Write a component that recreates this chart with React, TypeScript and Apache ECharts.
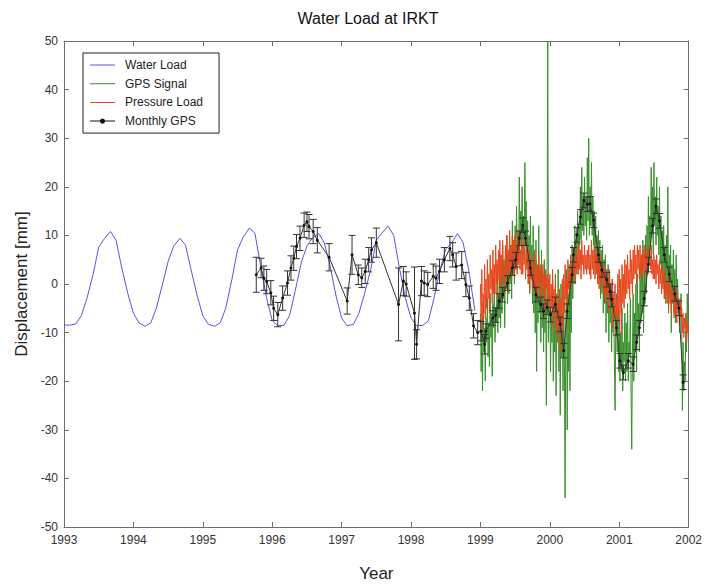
import React, { useEffect, useRef } from 'react';
import * as echarts from 'echarts';

// ---------- axes ----------
const yearTicks = [1993, 1994, 1995, 1996, 1997, 1998, 1999, 2000, 2001, 2002];
const dispTicks = [-50, -40, -30, -20, -10, 0, 10, 20, 30, 40, 50];

// ---------- Water Load (monthly model) ----------
const waterYears = [
  1993.00, 1993.08, 1993.17, 1993.25, 1993.33, 1993.42, 1993.50, 1993.58, 1993.67, 1993.75, 1993.83, 1993.92,
  1994.00, 1994.08, 1994.17, 1994.25, 1994.33, 1994.42, 1994.50, 1994.58, 1994.67, 1994.75, 1994.83, 1994.92,
  1995.00, 1995.08, 1995.17, 1995.25, 1995.33, 1995.42, 1995.50, 1995.58, 1995.67, 1995.75, 1995.83, 1995.92,
  1996.00, 1996.08, 1996.17, 1996.25, 1996.33, 1996.42, 1996.50, 1996.58, 1996.67, 1996.75, 1996.83, 1996.92,
  1997.00, 1997.08, 1997.17, 1997.25, 1997.33, 1997.42, 1997.50, 1997.58, 1997.67, 1997.75, 1997.83, 1997.92,
  1998.00, 1998.08, 1998.17, 1998.25, 1998.33, 1998.42, 1998.50, 1998.58, 1998.67, 1998.75, 1998.83, 1998.92,
];
const waterVals = [
  -8.4, -8.5, -8.2, -6.5, -3.0, 2.0, 7.6, 9.3, 10.8, 9.0, 3.5, -2.0,
  -6.0, -8.0, -8.7, -8.0, -5.0, 0.0, 4.6, 7.8, 9.4, 8.0, 3.0, -2.5,
  -6.5, -8.3, -8.7, -8.0, -5.0, 1.0, 7.0, 9.6, 11.5, 10.5, 4.0, -3.0,
  -7.5, -8.6, -8.5, -6.5, -1.5, 4.5, 7.8, 9.5, 10.4, 8.5, 4.0, -2.5,
  -7.0, -8.6, -8.3, -6.0, -2.0, 3.0, 9.0, 10.5, 11.9, 10.0, 3.5, -3.0,
  -7.0, -8.6, -8.5, -7.6, -3.0, 3.0, 7.2, 8.3, 10.4, 8.5, 3.0, -5.5,
];

// ---------- Monthly GPS with error bars ----------
const monthlyYears = [
  1995.77, 1995.84, 1995.88, 1995.92, 1995.98, 1996.02, 1996.08, 1996.15, 1996.22, 1996.27,
  1996.31, 1996.35, 1996.40, 1996.46, 1996.50, 1996.53, 1996.59, 1996.65, 1996.82, 1997.08,
  1997.15, 1997.24, 1997.29, 1997.34, 1997.39, 1997.43, 1997.50, 1997.82, 1997.89, 1997.93,
  1998.05, 1998.08, 1998.15, 1998.19, 1998.24, 1998.32, 1998.36, 1998.41, 1998.48, 1998.56,
  1998.60, 1998.65, 1998.73, 1998.79, 1998.84, 1998.90, 1998.96, 1999.01, 1999.06, 1999.08,
  1999.18, 1999.22, 1999.27, 1999.32, 1999.39, 1999.46, 1999.51, 1999.56, 1999.61, 1999.65,
  1999.72, 1999.80, 1999.87, 1999.91, 1999.96, 2000.01, 2000.08, 2000.15, 2000.20, 2000.25,
  2000.32, 2000.34, 2000.39, 2000.44, 2000.49, 2000.54, 2000.58, 2000.63, 2000.70, 2000.75,
  2000.82, 2000.87, 2000.89, 2000.96, 2001.01, 2001.06, 2001.13, 2001.20, 2001.25, 2001.29,
  2001.36, 2001.42, 2001.48, 2001.53, 2001.58, 2001.65, 2001.72, 2001.80, 2001.86, 2001.92,
];
const monthlyDisp = [
  1.9, 3.3, 1.2, 0.5, -1.8, -5.0, -6.3, -2.9, 0.2, 3.3,
  5.3, 7.7, 9.4, 12.1, 12.8, 11.8, 10.8, 9.0, 5.5, -3.5,
  6.0, 1.9, 1.3, 2.6, 5.0, 7.0, 8.5, -4.2, 0.6, 0.0,
  -6.0, -12.4, 0.6, 0.2, -0.1, 1.6, 1.2, 2.6, 5.0, 7.3,
  6.0, 3.6, 3.9, -0.1, -2.9, -8.6, -10.0, -9.7, -12.4, -9.7,
  -7.0, -6.4, -3.5, -2.2, 0.2, 3.3, 5.0, 9.4, 12.1, 9.4,
  3.3, -2.2, -4.2, -5.6, -4.8, -6.3, -4.2, -8.3, -13.7, -5.6,
  1.9, 6.0, 10.1, 13.8, 17.2, 16.4, 16.5, 13.1, 6.0, 2.9,
  0.9, -1.5, -3.2, -9.0, -15.8, -18.2, -15.8, -16.5, -12.0, -9.0,
  -3.0, 4.0, 12.0, 16.0, 13.0, 6.0, 2.0, -2.0, -5.0, -20.2,
];
const monthlyErr = [
  3.6, 2.0, 2.5, 2.5, 2.5, 2.5, 2.5, 2.5, 2.5, 2.5,
  2.5, 2.5, 2.5, 2.5, 2.0, 2.5, 2.5, 2.6, 2.8, 2.7,
  4.0, 2.0, 2.0, 2.5, 2.5, 2.5, 3.0, 7.5, 3.0, 2.5,
  9.5, 3.0, 3.0, 2.5, 2.5, 2.5, 2.5, 2.5, 2.5, 2.5,
  2.5, 2.8, 2.8, 2.5, 2.5, 2.5, 2.5, 2.0, 2.0, 1.5,
  1.5, 1.5, 1.5, 1.5, 1.5, 1.5, 1.5, 1.5, 1.5, 1.5,
  1.5, 1.5, 1.5, 1.5, 1.5, 1.5, 1.5, 1.5, 1.5, 1.5,
  1.5, 1.5, 1.5, 1.5, 1.5, 1.5, 1.5, 1.5, 1.5, 1.5,
  1.5, 1.5, 1.5, 1.5, 1.5, 1.5, 1.5, 1.5, 1.5, 1.5,
  1.5, 1.5, 1.5, 1.5, 1.5, 1.5, 1.5, 1.5, 1.5, 1.5,
];

// ---------- daily series (sampled every 0.01 yr from 1999.00) ----------
const sampleStart = 1999.0;
const sampleStep = 0.01;
const gpsSignal = [
  -6, -18, -10, -22, -4, -14, -9, -20, -7, -12, // 1999.0
  -3, -15, -8, -17, -2, -11, -6, -19, -4, -9, // 1999.1
  1, -12, -5, -8, 4, -10, -2, -7, 6, -9, // 1999.2
  2, -6, 8, -3, 5, -9, 7, -1, 10, -4, // 1999.3
  6, -2, 11, 0, 8, -3, 13, 2, 9, 0, // 1999.4
  12, 3, 16, 6, 10, 4, 22, 8, 15, 6, // 1999.5
  20, 9, 14, 5, 25, 10, 17, 4, 13, 0, // 1999.6
  10, -2, 14, 1, 8, -4, 12, -6, 6, -10, // 1999.7
  9, -18, 4, -8, 12, -6, 3, -12, 7, -9, // 1999.8
  2, -14, 5, -10, 0, -25, 3, 50, -12, -4, // 1999.9
  -2, -18, -6, -12, 1, -20, -4, -14, 2, -23, // 2000.0
  -5, -12, 3, -18, -3, -27, 0, -15, -6, -22, // 2000.1
  -4, -16, -44, -8, 3, -30, -2, -18, 4, -22, // 2000.2
  2, -10, 8, -3, 5, 0, 12, 3, 9, 2, // 2000.3
  15, 6, 12, 8, 20, 9, 24, 11, 18, 10, // 2000.4
  22, 12, 18, 9, 26, 13, 30, 10, 20, 12, // 2000.5
  25, 10, 18, 8, 15, 5, 14, 3, 10, 0, // 2000.6
  11, 2, 9, -3, 7, -1, 8, -6, 5, -4, // 2000.7
  6, -10, 3, -6, 4, -12, 2, -8, 0, -14, // 2000.8
  1, -10, -3, -16, -26, -8, -2, -14, -5, -18, // 2000.9
  -6, -20, -10, -18, -5, -22, -12, -16, -6, -20, // 2001.0
  -8, -18, -4, -20, -12, -15, -3, -22, -34, -14, // 2001.1
  -2, -20, -6, -14, 0, -18, 2, -10, -4, -14, // 2001.2
  4, -8, 6, -6, 9, -10, 3, -4, 10, -2, // 2001.3
  12, 2, 18, 5, 14, 8, 24, 10, 20, 6, // 2001.4
  25, 12, 18, 8, 22, 10, 16, 6, 20, 4, // 2001.5
  14, 2, 11, 0, 12, -3, 8, -1, 10, -4, // 2001.6
  20, -6, 6, -2, 8, -10, 4, -4, 7, -6, // 2001.7
  3, -8, 6, -4, 1, -6, -3, -10, -6, -2, // 2001.8
  -8, -26, -12, -22, -16, -20, -6, -14, -2, -8, // 2001.9
  -4, // 2002.0
];
const pressureLoad = [
  0, -8, 3, -10, -2, -6, 4, -7, 1, -5, // 1999.0
  5, -3, 2, -6, 6, -1, 3, -4, 7, -2, // 1999.1
  4, -2, 8, 0, 5, -3, 7, 1, 9, -1, // 1999.2
  6, 0, 9, 2, 4, -2, 8, 1, 10, 2, // 1999.3
  7, 1, 11, 3, 8, 2, 10, 4, 9, 1, // 1999.4
  10, 3, 8, 2, 11, 4, 9, 3, 7, 2, // 1999.5
  9, 2, 10, 4, 7, 1, 8, 3, 6, 0, // 1999.6
  7, -1, 5, 1, 6, -2, 4, 0, 7, -1, // 1999.7
  5, -3, 3, -1, 6, -2, 4, -4, 3, 0, // 1999.8
  4, -3, 2, -5, 3, -1, 2, -6, 1, -4, // 1999.9
  2, -8, 0, -5, 3, -9, -1, -6, 0, -10, // 2000.0
  -2, -12, -4, -9, -1, -14, -3, -8, 1, -10, // 2000.1
  2, -6, 4, -3, 1, -5, 5, -1, 3, -2, // 2000.2
  6, 0, 4, 1, 7, 2, 5, 0, 8, 3, // 2000.3
  6, 2, 8, 3, 7, 1, 9, 4, 6, 2, // 2000.4
  8, 3, 6, 2, 7, 3, 8, 2, 6, 1, // 2000.5
  9, 3, 7, 2, 8, 1, 6, 2, 7, 0, // 2000.6
  5, -1, 4, 0, 6, -2, 3, 1, 4, -3, // 2000.7
  3, -4, 2, -2, 1, -6, 3, -3, 0, -5, // 2000.8
  1, -9, -2, -6, 0, -11, -3, -7, 2, -8, // 2000.9
  3, -6, 1, -10, 4, -4, 2, -5, 5, -3, // 2001.0
  4, -2, 6, -1, 3, -3, 7, 0, 5, -2, // 2001.1
  7, 1, 8, 2, 6, 0, 8, 3, 7, 1, // 2001.2
  8, 2, 6, 1, 7, 3, 8, 2, 6, 2, // 2001.3
  7, 2, 8, 4, 6, 3, 8, 2, 5, 1, // 2001.4
  6, 1, 5, 0, 6, 2, 4, -1, 5, 0, // 2001.5
  3, -2, 4, -1, 2, -3, 3, -4, 1, -2, // 2001.6
  0, -5, 2, -4, -1, -6, 0, -3, -2, -7, // 2001.7
  -2, -6, -3, -8, -1, -5, -4, -9, -3, -7, // 2001.8
  -5, -10, -6, -11, -7, -9, -6, -12, -8, -10, // 2001.9
  -9, // 2002.0
];

const FONT = '"Liberation Sans", Arial, Helvetica, sans-serif';

// legend glyphs: a thin line (with corner anchors so the box is 25x10), and line + dot
const LINE_ICON = 'path://M0,0h0.05v0.05h-0.05z M0,4.5h25v1h-25z M24.95,9.95h0.05v0.05h-0.05z';
const LINE_DOT_ICON =
  'path://M0,0h0.05v0.05h-0.05z M0,4.5h25v1h-25z M24.95,9.95h0.05v0.05h-0.05z ' +
  'M15.2,5 L14.4,6.9 L12.5,7.7 L10.6,6.9 L9.8,5 L10.6,3.1 L12.5,2.3 L14.4,3.1 Z';

function buildOption() {
  const water = waterYears.map((t, i) => [t, waterVals[i]]);
  const gps = gpsSignal.map((v, i) => [+(sampleStart + i * sampleStep).toFixed(3), v]);
  const pres = pressureLoad.map((v, i) => [+(sampleStart + i * sampleStep).toFixed(3), v]);
  const monthly = monthlyYears.map((t, i) => [t, monthlyDisp[i]]);
  const errs = monthlyYears.map((t, i) => [t, monthlyDisp[i] - monthlyErr[i], monthlyDisp[i] + monthlyErr[i]]);

  const xMin = yearTicks[0];
  const xMax = yearTicks[yearTicks.length - 1];
  const yMin = dispTicks[0];
  const yMax = dispTicks[dispTicks.length - 1];
  const axisColor = '#6e6e6e';

  const baseX = {
    type: 'value',
    min: xMin,
    max: xMax,
    interval: 1,
    splitLine: { show: false },
    axisLine: { show: true, onZero: false, lineStyle: { color: axisColor, width: 1 } },
    axisTick: { show: true, inside: true, length: 5, lineStyle: { color: axisColor } },
  };
  const baseY = {
    type: 'value',
    min: yMin,
    max: yMax,
    interval: 10,
    splitLine: { show: false },
    axisLine: { show: true, onZero: false, lineStyle: { color: axisColor, width: 1 } },
    axisTick: { show: true, inside: true, length: 5, lineStyle: { color: axisColor } },
  };

  return {
    animation: false,
    backgroundColor: '#ffffff',
    textStyle: { fontFamily: FONT },
    grid: { left: 64, right: 11, top: 41, bottom: 56, containLabel: false },
    graphic: [
      {
        type: 'text',
        x: 368,
        y: 18,
        style: {
          text: 'Water Load at IRKT',
          fontFamily: FONT,
          fontSize: 16,
          fill: '#111',
          align: 'center',
          verticalAlign: 'middle',
          textAlign: 'center',
          textVerticalAlign: 'middle',
        },
      },
    ],
    legend: {
      data: [
        { name: 'Water Load', icon: LINE_ICON },
        { name: 'GPS Signal', icon: LINE_ICON },
        { name: 'Pressure Load', icon: LINE_ICON },
        { name: 'Monthly GPS', icon: LINE_DOT_ICON },
      ],
      orient: 'vertical',
      left: 83,
      top: 53,
      itemWidth: 25,
      itemHeight: 10,
      itemGap: 6.7,
      padding: [6, 16, 6, 7],
      borderColor: '#222',
      borderWidth: 1,
      backgroundColor: '#ffffff',
      textStyle: { fontFamily: FONT, fontSize: 12, color: '#222', padding: [0, 0, 0, 5] },
    },
    xAxis: [
      {
        ...baseX,
        position: 'bottom',
        name: 'Year',
        nameLocation: 'middle',
        nameGap: 38,
        nameTextStyle: { fontFamily: FONT, fontSize: 17, color: '#222' },
        axisLabel: { show: true, margin: 7, fontFamily: FONT, fontSize: 12, color: '#333', formatter: (v: number) => String(v) },
      },
      { ...baseX, position: 'top', axisLabel: { show: false } },
    ],
    yAxis: [
      {
        ...baseY,
        position: 'left',
        name: 'Displacement [mm]',
        nameLocation: 'middle',
        nameGap: 34,
        nameTextStyle: { fontFamily: FONT, fontSize: 17, color: '#222' },
        axisLabel: { show: true, margin: 6, fontFamily: FONT, fontSize: 12, color: '#333' },
      },
      { ...baseY, position: 'right', axisLabel: { show: false } },
    ],
    series: [
      {
        name: 'Water Load',
        type: 'line',
        data: water,
        symbol: 'none',
        showSymbol: false,
        lineStyle: { color: '#5656e2', width: 1 },
        itemStyle: { color: '#5656e2' },
        z: 2,
      },
      {
        name: 'GPS Signal',
        type: 'line',
        data: gps,
        symbol: 'none',
        showSymbol: false,
        lineStyle: { color: '#37902a', width: 1 },
        itemStyle: { color: '#37902a' },
        z: 3,
      },
      {
        name: 'Pressure Load',
        type: 'line',
        data: pres,
        symbol: 'none',
        showSymbol: false,
        lineStyle: { color: '#e8461c', width: 1 },
        itemStyle: { color: '#e8461c' },
        z: 4,
      },
      {
        name: 'errbars',
        type: 'custom',
        data: errs,
        encode: { x: 0, y: [1, 2] },
        z: 5,
        renderItem: (params: any, api: any) => {
          const x = api.value(0);
          const lo = api.coord([x, api.value(1)]);
          const hi = api.coord([x, api.value(2)]);
          const w = 3.5;
          const st = { stroke: '#333', lineWidth: 1 };
          return {
            type: 'group',
            children: [
              { type: 'line', shape: { x1: lo[0], y1: lo[1], x2: hi[0], y2: hi[1] }, style: st },
              { type: 'line', shape: { x1: lo[0] - w, y1: lo[1], x2: lo[0] + w, y2: lo[1] }, style: st },
              { type: 'line', shape: { x1: hi[0] - w, y1: hi[1], x2: hi[0] + w, y2: hi[1] }, style: st },
            ],
          };
        },
      },
      {
        name: 'Monthly GPS',
        type: 'line',
        data: monthly,
        symbol: 'circle',
        symbolSize: 3,
        showSymbol: true,
        lineStyle: { color: '#333', width: 1 },
        itemStyle: { color: '#111' },
        z: 6,
      },
    ],
  };
}

export default function App() {
  const ref = useRef<HTMLDivElement>(null);
  useEffect(() => {
    if (!ref.current) return;
    const chart = echarts.init(ref.current, null, { renderer: 'svg' });
    chart.setOption(buildOption() as any);
    return () => {
      chart.dispose();
    };
  }, []);
  return (
    <div
      ref={ref}
      style={{ position: 'absolute', left: 0, top: 0, width: 705, height: 587, background: '#fff' }}
    />
  );
}
